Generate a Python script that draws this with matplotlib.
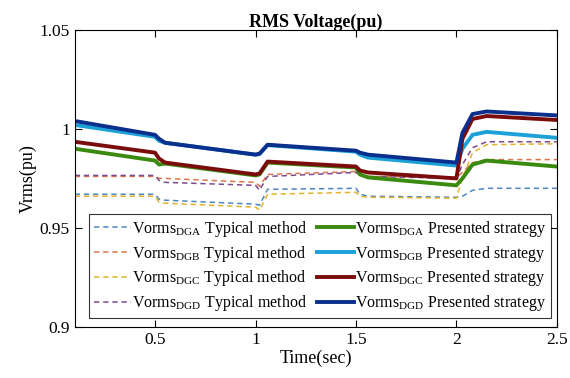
import matplotlib
matplotlib.use("Agg")
import matplotlib.pyplot as plt

plt.rcParams["font.family"] = ["Liberation Serif", "DejaVu Serif"]
plt.rcParams["mathtext.fontset"] = "custom"
plt.rcParams["mathtext.rm"] = "Liberation Serif"

# time keypoints (sec)
time = [0.1, 0.5, 0.52, 0.55, 1.0, 1.02, 1.06, 1.5, 1.52, 1.56, 2.0, 2.03, 2.08, 2.15, 2.5]

# typical method (dashed)
typ_dga = [0.967, 0.967, 0.9645, 0.964, 0.962, 0.9615, 0.9695, 0.970, 0.967, 0.966, 0.9655, 0.966, 0.969, 0.970, 0.970]
typ_dgb = [0.976, 0.976, 0.975, 0.975, 0.973, 0.971, 0.977, 0.9785, 0.977, 0.976, 0.9755, 0.978, 0.983, 0.9845, 0.9845]
typ_dgc = [0.966, 0.966, 0.963, 0.9625, 0.9605, 0.959, 0.967, 0.968, 0.966, 0.9655, 0.965, 0.975, 0.988, 0.992, 0.9925]
typ_dgd = [0.9765, 0.9765, 0.974, 0.973, 0.9715, 0.969, 0.976, 0.978, 0.9765, 0.976, 0.975, 0.982, 0.9905, 0.9935, 0.9935]

# presented strategy (solid)
pre_dga = [0.990, 0.984, 0.982, 0.9825, 0.9765, 0.977, 0.983, 0.9805, 0.977, 0.9755, 0.9715, 0.975, 0.982, 0.984, 0.981]
pre_dgb = [1.002, 0.996, 0.994, 0.993, 0.987, 0.9873, 0.9918, 0.9885, 0.987, 0.9855, 0.9815, 0.990, 0.997, 0.9985, 0.9955]
pre_dgc = [0.9935, 0.988, 0.985, 0.983, 0.977, 0.9775, 0.9835, 0.981, 0.979, 0.978, 0.975, 0.995, 1.005, 1.0065, 1.0045]
pre_dgd = [1.004, 0.997, 0.995, 0.993, 0.987, 0.9875, 0.992, 0.989, 0.988, 0.987, 0.983, 0.998, 1.0075, 1.0088, 1.0068]

names = ["DGA", "DGB", "DGC", "DGD"]
typ_colors = ["#4f86c0", "#d9774a", "#e3b52c", "#7e4a8e"]
pre_colors = ["#3b8a10", "#1ca0d8", "#7a0c0c", "#0a2f8c"]

fig = plt.figure(figsize=(5.7, 3.78), dpi=100)
ax = fig.add_axes([0.131, 0.135, 0.846, 0.786])

for name, vals, col in zip(names, [typ_dga, typ_dgb, typ_dgc, typ_dgd], typ_colors):
    ax.plot(time, vals, color=col, linewidth=1.1, dashes=(3.5, 2.5),
            label=r"Vorms$_{\rm %s}$ Typical method" % name)
for name, vals, col in zip(names, [pre_dga, pre_dgb, pre_dgc, pre_dgd], pre_colors):
    ax.plot(time, vals, color=col, linewidth=2.8,
            label=r"Vorms$_{\rm %s}$ Presented strategy" % name)

ax.set_xlim(0.1, 2.5)
ax.set_ylim(0.9, 1.05)
ax.set_xticks([0.5, 1, 1.5, 2, 2.5])
ax.set_xticklabels(["0.5", "1", "1.5", "2", "2.5"])
ax.set_yticks([0.9, 0.95, 1, 1.05])
ax.set_yticklabels(["0.9", "0.95", "1", "1.05"])
ax.tick_params(direction="in", top=True, right=True, labelsize=12.5, length=5, width=0.8)
for spine in ax.spines.values():
    spine.set_linewidth(0.8)

ax.set_xlabel("Time(sec)", fontsize=13, labelpad=1)
ax.set_ylabel("Vrms(pu)", fontsize=13, labelpad=2)
ax.set_title("RMS Voltage(pu)", fontsize=13, fontweight="bold", pad=2)

leg = ax.legend(ncol=2, loc="lower center", bbox_to_anchor=(0.509, 0.03),
                fontsize=11.5, frameon=True, fancybox=False, edgecolor="black",
                handlelength=2.3, handletextpad=0.1, columnspacing=0.6,
                labelspacing=0.3, borderpad=0.3, borderaxespad=0)
leg.get_frame().set_linewidth(0.8)

fig.savefig("out.png", dpi=100)
